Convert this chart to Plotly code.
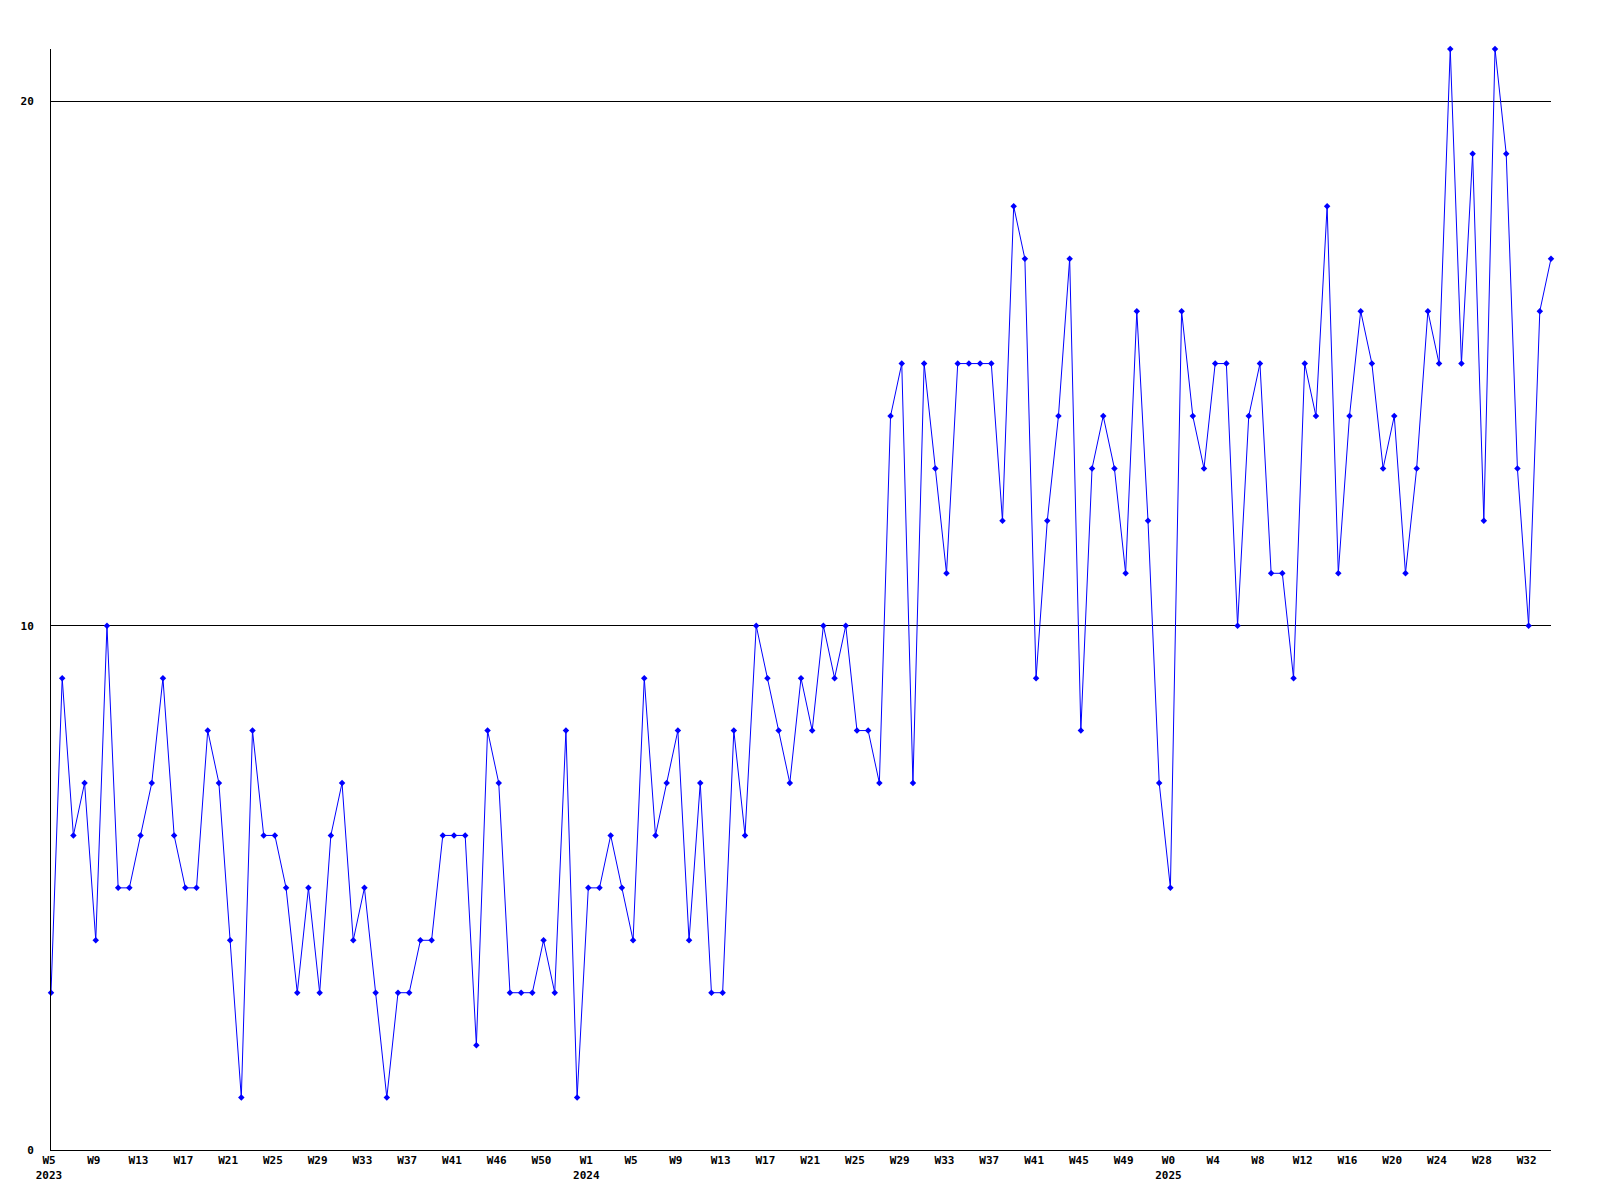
import plotly.graph_objects as go

# weekly values, starting at 2023 W5
values = [3, 9, 6, 7, 4, 10, 5, 5, 6, 7, 9, 6, 5, 5, 8, 7, 4, 1, 8, 6,
          6, 5, 3, 5, 3, 6, 7, 4, 5, 3, 1, 3, 3, 4, 4, 6, 6, 6, 2, 8,
          7, 3, 3, 3, 4, 3, 8, 1, 5, 5, 6, 5, 4, 9, 6, 7, 8, 4, 7, 3,
          3, 8, 6, 10, 9, 8, 7, 9, 8, 10, 9, 10, 8, 8, 7, 14, 15, 7, 15, 13,
          11, 15, 15, 15, 15, 12, 18, 17, 9, 12, 14, 17, 8, 13, 14, 13, 11, 16, 12, 7,
          5, 16, 14, 13, 15, 15, 10, 14, 15, 11, 11, 9, 15, 14, 18, 11, 14, 16, 15, 13,
          14, 11, 13, 16, 15, 21, 15, 19, 12, 21, 19, 13, 10, 16, 17]

# tick labels, one every 4 weeks
tick_labels = ["W5<br>2023", "W9", "W13", "W17", "W21", "W25", "W29", "W33", "W37", "W41",
               "W46", "W50", "W1<br>2024", "W5", "W9", "W13", "W17", "W21", "W25", "W29",
               "W33", "W37", "W41", "W45", "W49", "W0<br>2025", "W4", "W8", "W12", "W16",
               "W20", "W24", "W28", "W32"]

x = list(range(len(values)))
tick_vals = x[::4][:len(tick_labels)]

font = dict(family="DejaVu Sans Mono", size=11, color="black", weight="bold")

fig = go.Figure()
fig.add_trace(go.Scatter(
    x=x, y=values, mode="lines+markers",
    line=dict(color="#0000ff", width=1),
    marker=dict(symbol="diamond", size=5, color="#0000ff"),
    cliponaxis=False,
    hoverinfo="skip",
))

fig.update_layout(
    width=1600, height=1200,
    margin=dict(l=51, r=49, t=49, b=50),
    paper_bgcolor="white", plot_bgcolor="white",
    showlegend=False,
    font=font,
)
fig.update_xaxes(
    range=[0, len(values) - 1],
    tickvals=tick_vals, ticktext=tick_labels,
    tickfont=font, ticks="", showgrid=False, zeroline=False,
    showline=True, linecolor="black", linewidth=1,
    ticklabelshift=-2,
)
fig.update_yaxes(
    range=[0, 21], dtick=10, tick0=0,
    tickfont=font, ticks="", showgrid=True, gridcolor="black", gridwidth=1,
    zeroline=False, showline=True, linecolor="black", linewidth=1,
    ticklabelstandoff=14,
)

fig.write_html("out.html", config={"displayModeBar": False},
               post_script="document.body.style.margin='0';")
